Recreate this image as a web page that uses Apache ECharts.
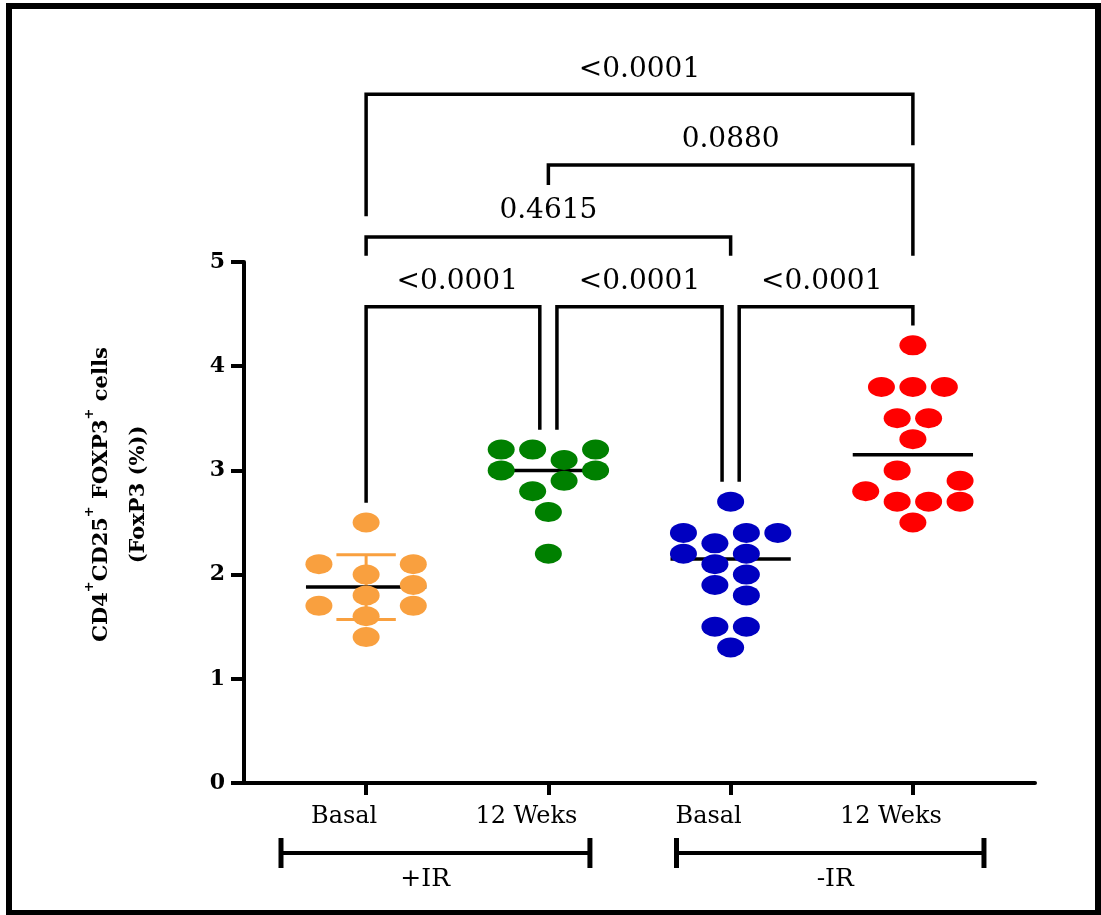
<!DOCTYPE html>
<html>
<head>
<meta charset="utf-8">
<title>FoxP3</title>
<script src="https://cdn.jsdelivr.net/npm/echarts@6/dist/echarts.min.js"></script>
<style>
html,body{margin:0;padding:0;background:#fff;}
#chart{width:1101px;height:915px;}
</style>
</head>
<body>
<div id="chart"></div>
<script>
// categories and tick labels
var categories = ['Basal', '12 Weks', 'Basal', '12 Weks'];
var groupNames = ['+IR', '-IR'];
var yTicks = [0, 1, 2, 3, 4, 5];

// values per group; lane = slot of the dot in the swarm
var irBasal = [2.5, 2.1, 2.1, 2.0, 1.9, 1.8, 1.7, 1.7, 1.6, 1.4];
var irBasalLane = [0, -3, 3, 0, 3, 0, -3, 3, 0, 0];
var ir12w = [3.2, 3.2, 3.2, 3.1, 3.0, 3.0, 2.9, 2.8, 2.6, 2.2];
var ir12wLane = [-3, -1, 3, 1, -3, 3, 1, -1, 0, 0];
var noIrBasal = [2.7, 2.4, 2.4, 2.4, 2.3, 2.2, 2.2, 2.1, 2.0, 1.9, 1.8, 1.5, 1.5, 1.3];
var noIrBasalLane = [0, -3, 1, 3, -1, -3, 1, -1, 1, -1, 1, -1, 1, 0];
var noIr12w = [4.2, 3.8, 3.8, 3.8, 3.5, 3.5, 3.3, 3.0, 2.9, 2.8, 2.7, 2.7, 2.7, 2.5];
var noIr12wLane = [0, -2, 0, 2, -1, 1, 0, -1, 3, -3, -1, 1, 3, 0];

var means = [1.88, 3.0, 2.15, 3.15];
var sdLow = [1.57, null, null, null];
var sdHigh = [2.19, null, null, null];

// multiple comparisons
var pPairs = [[1, 2], [2, 3], [3, 4], [1, 3], [2, 4], [1, 4]];
var pValues = ['<0.0001', '<0.0001', '<0.0001', '0.4615', '0.0880', '<0.0001'];

var colors = ['#F9A03F', '#008000', '#0000C0', '#FF0000'];

// layout of the brackets (y in axis units, x shift where two brackets meet)
var bracketLayout = [
	{dx1: 0, dx2: -0.047, top: 4.57, leg1: 2.69, leg2: 3.39, text: 4.81},
	{dx1: 0.047, dx2: -0.047, top: 4.57, leg1: 3.39, leg2: 2.89, text: 4.81},
	{dx1: 0.047, dx2: 0, top: 4.57, leg1: 2.89, leg2: 4.39, text: 4.81},
	{dx1: 0, dx2: 0, top: 5.24, leg1: 5.06, leg2: 5.06, text: 5.49},
	{dx1: 0, dx2: 0, top: 5.93, leg1: 5.74, leg2: 5.06, text: 6.17},
	{dx1: 0, dx2: 0, top: 6.61, leg1: 5.44, leg2: 6.12, text: 6.85}
];
var groupLayout = [
	{x1: 0.533, x2: 2.228, label: 1.324},
	{x1: 2.703, x2: 4.39, label: 3.574}
];
var groupBarY = -0.672, groupCap = 0.144, groupLabelY = -0.93;
var laneStep = 0.0863, meanHalf = 0.33, capHalf = 0.163;
var serif = 'DejaVu Serif';

function pathSeries(points, color, width, z){
	return {
		type: 'line', data: points, symbol: 'none', clip: false, silent: true, z: z,
		lineStyle: {color: color, width: width, cap: 'butt', join: 'miter'}
	};
}

function swarm(values, lanes, idx){
	var x0 = idx + 1;
	return {
		type: 'scatter', z: 5, symbol: 'circle', symbolSize: [27, 20],
		itemStyle: {color: colors[idx], opacity: 1},
		data: values.map(function(v, i){ return [x0 + lanes[i] * laneStep, v]; })
	};
}

// plain text placed in axis units
function textSeries(items, size){
	return {
		type: 'custom', clip: false, silent: true, z: 6,
		data: items,
		renderItem: function(params, api){
			var p = api.coord([api.value(0), api.value(1)]);
			return {
				type: 'text',
				style: {
					text: items[params.dataIndex].name, x: p[0], y: p[1],
					fill: '#000', font: size + 'px "' + serif + '"',
					align: 'center', verticalAlign: 'middle'
				}
			};
		}
	};
}

var series = [];
series.push(swarm(irBasal, irBasalLane, 0));
series.push(swarm(ir12w, ir12wLane, 1));
series.push(swarm(noIrBasal, noIrBasalLane, 2));
series.push(swarm(noIr12w, noIr12wLane, 3));

means.forEach(function(m, i){
	var x = i + 1;
	if(sdLow[i] != null){
		series.push(pathSeries([[x, sdLow[i]], [x, sdHigh[i]]], colors[i], 3, 2));
		series.push(pathSeries([[x - capHalf, sdHigh[i]], [x + capHalf, sdHigh[i]]], colors[i], 3, 2));
		series.push(pathSeries([[x - capHalf, sdLow[i]], [x + capHalf, sdLow[i]]], colors[i], 3, 2));
	}
	series.push(pathSeries([[x - meanHalf, m], [x + meanHalf, m]], '#000', 3.5, 3));
});

var pLabels = [];
pPairs.forEach(function(pair, i){
	var b = bracketLayout[i];
	var x1 = pair[0] + b.dx1, x2 = pair[1] + b.dx2;
	series.push(pathSeries([[x1, b.leg1], [x1, b.top], [x2, b.top], [x2, b.leg2]], '#000', 3.5, 2));
	pLabels.push({name: pValues[i], value: [(pair[0] + pair[1]) / 2, b.text]});
});
series.push(textSeries(pLabels, 28));

var gLabels = [];
groupLayout.forEach(function(g, i){
	series.push(pathSeries([[g.x1, groupBarY], [g.x2, groupBarY]], '#000', 4, 2));
	series.push(pathSeries([[g.x1, groupBarY + groupCap], [g.x1, groupBarY - groupCap]], '#000', 5, 2));
	series.push(pathSeries([[g.x2, groupBarY + groupCap], [g.x2, groupBarY - groupCap]], '#000', 5, 2));
	gLabels.push({name: groupNames[i], value: [g.label, groupLabelY]});
});
series.push(textSeries(gLabels, 25));

var myChart = echarts.init(document.getElementById('chart'));
var option = {
	animation: false,
	backgroundColor: '#fff',
	grid: {left: 244, right: 66, top: 262, bottom: 132},
	graphic: [{
		type: 'rect', silent: true,
		shape: {x: 9, y: 6, width: 1089, height: 907},
		style: {fill: 'none', stroke: '#000', lineWidth: 6}
	}],
	xAxis: {
		type: 'value', min: 0.33, max: 4.67,
		splitLine: {show: false},
		axisLine: {show: true, lineStyle: {color: '#000', width: 4}},
		axisTick: {show: true, customValues: [1, 2, 3, 4], length: 12, lineStyle: {color: '#000', width: 4}},
		axisLabel: {
			customValues: [1, 2, 3, 4], margin: 22, color: '#000',
			fontFamily: serif, fontSize: 24, padding: [0, 44, 0, 0],
			formatter: function(v){ return categories[Math.round(v) - 1]; }
		}
	},
	yAxis: {
		type: 'value', min: yTicks[0], max: yTicks[yTicks.length - 1], interval: 1,
		splitLine: {show: false},
		axisLine: {show: true, lineStyle: {color: '#000', width: 4}},
		axisTick: {show: true, length: 13, lineStyle: {color: '#000', width: 4}},
		axisLabel: {margin: 19, color: '#000', fontFamily: serif, fontSize: 22, fontWeight: 'bold'},
		name: '{m|CD4}{s|+}{m|CD25}{s|+}{m| FOXP3}{s|+}{m| cells}\n{m|(FoxP3 (%))}',
		nameLocation: 'middle',
		nameGap: 87,
		nameTextStyle: {
			align: 'center', padding: [0, 0, 0, 56],
			rich: {
				m: {fontFamily: serif, fontSize: 21, fontWeight: 'bold', color: '#000', lineHeight: 37},
				s: {fontFamily: serif, fontSize: 13, fontWeight: 'bold', color: '#000', lineHeight: 19, verticalAlign: 'top'}
			}
		}
	},
	series: series
};
myChart.setOption(option);
</script>
</body>
</html>
